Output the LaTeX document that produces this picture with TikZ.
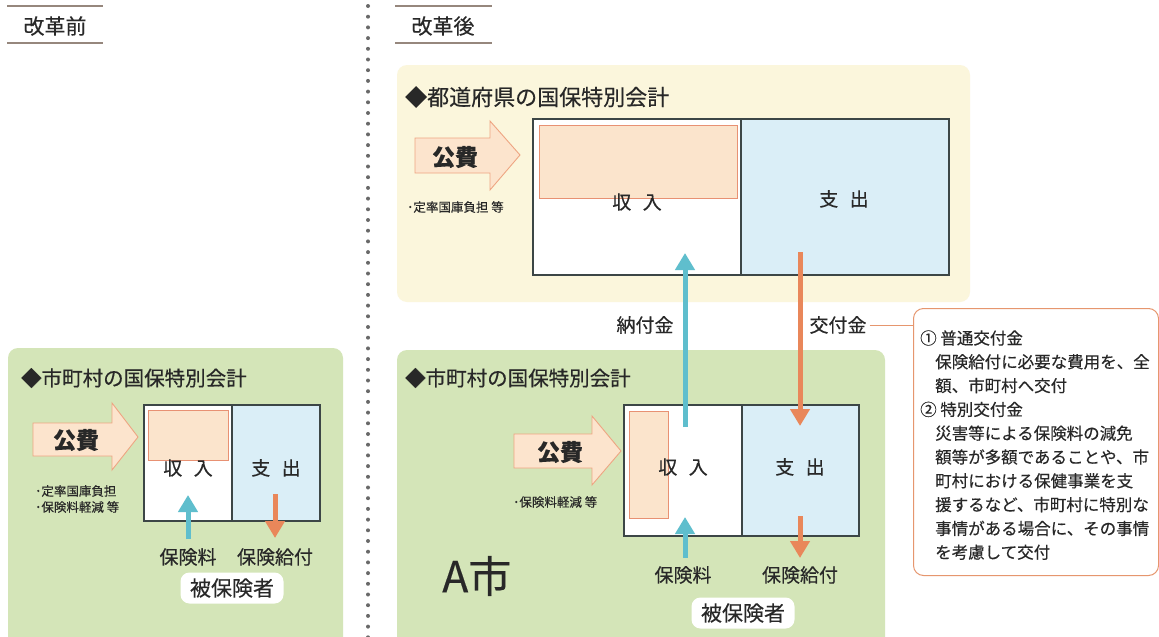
\documentclass[tikz,border=0pt]{standalone}
\usepackage{fontspec}
\setmainfont{Noto Sans CJK JP}[FakeBold=0.35]
\usetikzlibrary{arrows.meta}
\definecolor{txtc}{RGB}{40,40,40}
\definecolor{greenbg}{RGB}{212,229,184}
\definecolor{yellowbg}{RGB}{251,246,220}
\definecolor{bluecell}{RGB}{218,238,247}
\definecolor{orfill}{RGB}{251,228,204}
\definecolor{orline}{RGB}{232,145,115}
\definecolor{kfill}{RGB}{252,228,205}
\definecolor{kline}{RGB}{238,165,130}
\definecolor{tealc}{RGB}{95,190,205}
\definecolor{orarr}{RGB}{233,135,90}
\definecolor{tblc}{RGB}{60,70,70}
\definecolor{dotc}{RGB}{105,105,105}
\definecolor{hdrc}{RGB}{150,135,125}
\definecolor{callc}{RGB}{230,150,110}
\newcommand{\fsz}[1]{\fontsize{#1}{#1}\selectfont}
\tikzset{
  hdrline/.style={draw=hdrc, line width=1.6pt},
  tbl/.style={draw=tblc, line width=1.3pt},
  inner/.style={fill=orfill, draw=orline, line width=0.9pt},
  kohi/.style={fill=kfill, draw=kline, line width=0.9pt},
  bluearr/.style={draw=tealc, line width=5pt, -{Triangle[width=19pt,length=17pt]}},
  orarrow/.style={draw=orarr, line width=5pt, -{Triangle[width=19pt,length=17pt]}},
  hisho/.style={fill=white, rounded corners=9pt, minimum width=103pt, minimum height=31pt, font=\fsz{21}},
  lbl/.style={font=\fsz{19}},
  note/.style={anchor=west, font=\fsz{12.5}},
  ctext/.style={anchor=west, font=\fsz{16.5}},
}
\begin{document}
\begin{tikzpicture}[x=1pt, y=-1pt, every node/.style={inner sep=0pt, text=txtc}]
\useasboundingbox (0,0) rectangle (1159,637);
\clip (0,0) rectangle (1159,637);
\fill[white] (0,0) rectangle (1159,637);

% headers
\draw[hdrline] (7,6) -- (103,6);
\draw[hdrline] (7,43) -- (103,43);
\node[font=\fsz{21}] (hBefore) at (55,26) {改革前};
\draw[hdrline] (395,6) -- (492,6);
\draw[hdrline] (395,43) -- (492,43);
\node[font=\fsz{21}] (hAfter) at (443,26) {改革後};

% dotted separator
\foreach \i in {0,...,59} \fill[dotc] (368,{6+\i*10.7}) circle (2);

% ===== left: before reform =====
\fill[greenbg, rounded corners=10pt] (8,348) rectangle (343,680);
\node[anchor=west, font=\fsz{20.5}] (Ltitle) at (21,378) {◆市町村の国保特別会計};
\fill[white] (144,405) rectangle (232,521);
\fill[bluecell] (232,405) rectangle (320,521);
\path[inner] (148,410) rectangle (228,460);
\draw[tbl] (144,405) rectangle (320,521);
\draw[tbl] (232,405) -- (232,521);
\node[lbl] (Lin) at (188,468) {収\hspace{0.6em}入};
\node[lbl] (Lout) at (276,468) {支\hspace{0.6em}出};
\path[kohi] (33,423) -- (112,423) -- (112,403) -- (138,437) -- (112,470) -- (112,456) -- (33,456) -- cycle;
\node[font=\fsz{23}\bfseries] (Lkohi) at (76,440) {公費};
\node[note] (Ln1) at (35,491) {･定率国庫負担};
\node[note] (Ln2) at (35,507) {･保険料軽減 等};
\coordinate (LpS) at (188,539);
\coordinate (LpE) at (188,495);
\coordinate (LbS) at (275,494);
\coordinate (LbE) at (275,538);
\draw[bluearr] (LpS) -- (LpE);
\draw[orarrow] (LbS) -- (LbE);
\node[lbl] (Lprem) at (188,557) {保険料};
\node[lbl] (Lben) at (275,557) {保険給付};
\node[hisho] (Lhi) at (232,588) {被保険者};

% ===== right top: prefecture =====
\fill[yellowbg, rounded corners=10pt] (397,65) rectangle (970,302);
\node[anchor=west, font=\fsz{22}] (Ptitle) at (405,97) {◆都道府県の国保特別会計};
\fill[white] (533,119) rectangle (741,275);
\fill[bluecell] (741,119) rectangle (949,275);
\path[inner] (539,125) rectangle (737,198);
\draw[tbl] (533,119) rectangle (949,275);
\draw[tbl] (741,119) -- (741,275);
\node[lbl] (Pin) at (637,202) {収\hspace{0.6em}入};
\node[lbl] (Pout) at (844,199) {支\hspace{0.6em}出};
\path[kohi] (415,138) -- (490,138) -- (490,121) -- (520,155) -- (490,190) -- (490,173) -- (415,173) -- cycle;
\node[font=\fsz{23}\bfseries] (Pkohi) at (455,157) {公費};
\node[note] (Pn1) at (407,207) {･定率国庫負担 等};

% ===== right bottom: municipality =====
\fill[greenbg, rounded corners=10pt] (397,350) rectangle (885,680);
\node[anchor=west, font=\fsz{20.5}] (Mtitle) at (405,378) {◆市町村の国保特別会計};
\fill[white] (624,405) rectangle (742,536);
\fill[bluecell] (742,405) rectangle (859,536);
\path[inner] (629,411) rectangle (668,518);
\draw[tbl] (624,405) rectangle (859,536);
\draw[tbl] (742,405) -- (742,536);
\node[lbl] (Min) at (683,467) {収\hspace{0.6em}入};
\node[lbl] (Mout) at (800,467) {支\hspace{0.6em}出};
\path[kohi] (514,434) -- (592,434) -- (592,416) -- (621,451) -- (592,485) -- (592,468) -- (514,468) -- cycle;
\node[font=\fsz{23}\bfseries] (Mkohi) at (560,452) {公費};
\node[note] (Mn1) at (513,502) {･保険料軽減 等};
\node[anchor=west, font=\fsz{43}] (Acity) at (442,576) {A市};
\coordinate (MpS) at (685,558);
\coordinate (MpE) at (685,517);
\coordinate (MbS) at (800,516);
\coordinate (MbE) at (800,558);
\draw[bluearr] (MpS) -- (MpE);
\draw[orarrow] (MbS) -- (MbE);
\node[lbl] (Mprem) at (683,575) {保険料};
\node[lbl] (Mben) at (800,575) {保険給付};
\node[hisho] (Mhi) at (743,613) {被保険者};

% ===== connectors between levels =====
\coordinate (nfS) at (685,427);
\coordinate (nfE) at (685,253);
\coordinate (kfS) at (800,252);
\coordinate (kfE) at (800,426);
\draw[bluearr] (nfS) -- (nfE);
\draw[orarrow] (kfS) -- (kfE);
\node[lbl] (nofu) at (645,325) {納付金};
\node[lbl] (kofu) at (838,325) {交付金};

% callout
\node[draw=callc, line width=1pt, fill=white, rounded corners=10pt, minimum width=245pt, minimum height=267pt, anchor=north west] (call) at (913,308) {};
\draw[draw=callc, line width=1pt] (kofu.east) ++(3,0) -- (call.west |- kofu.east);
\node[ctext] (c1) at (920,338) {① 普通交付金};
\node[ctext] (c2) at (935,361.8) {保険給付に必要な費用を、全};
\node[ctext] (c3) at (935,385.6) {額、市町村へ交付};
\node[ctext] (c4) at (920,409.4) {② 特別交付金};
\node[ctext] (c5) at (935,433.2) {災害等による保険料の減免};
\node[ctext] (c6) at (935,457) {額等が多額であることや、市};
\node[ctext] (c7) at (935,480.8) {町村における保健事業を支};
\node[ctext] (c8) at (935,504.6) {援するなど、市町村に特別な};
\node[ctext] (c9) at (935,528.4) {事情がある場合に、その事情};
\node[ctext] (c10) at (935,552.2) {を考慮して交付};
\end{tikzpicture}
\end{document}
